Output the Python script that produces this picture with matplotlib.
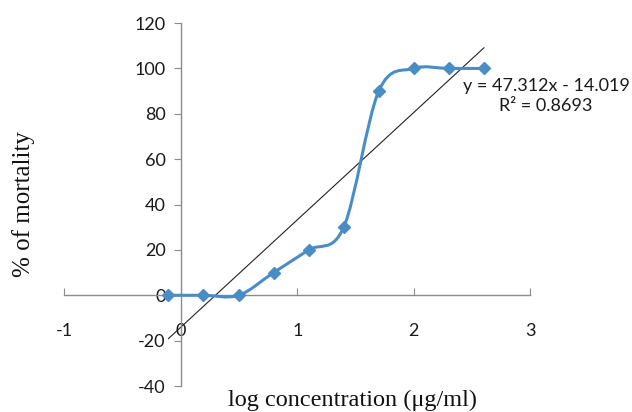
import numpy as np
import matplotlib.pyplot as plt
from matplotlib.path import Path
from matplotlib.patches import PathPatch

plt.rcParams['axes.unicode_minus'] = False

# log concentration and % mortality
log_conc = [-0.107, 0.193, 0.495, 0.796, 1.097, 1.398, 1.699, 2.0, 2.301, 2.602]
mortality = [0, 0, 0, 10, 20, 30, 90, 100, 100, 100]
slope = 47.312
intercept = -14.019
r2 = 0.8693

blue = '#4a8cc6'

fig = plt.figure(figsize=(6.32, 4.12), dpi=100)
ax = fig.add_axes([0.102, 0.063, 0.737, 0.881])

# smoothed line (excel style bezier through the points)
pts = np.column_stack([log_conc, mortality])
verts = [pts[0]]
codes = [Path.MOVETO]
n = len(pts)
for i in range(n - 1):
    p0 = pts[max(i - 1, 0)]
    p1 = pts[i]
    p2 = pts[i + 1]
    p3 = pts[min(i + 2, n - 1)]
    verts += [p1 + (p2 - p0) / 6, p2 - (p3 - p1) / 6, p2]
    codes += [Path.CURVE4] * 3
ax.add_patch(PathPatch(Path(verts, codes), fill=False, edgecolor=blue, lw=2.2, zorder=3))
ax.plot(log_conc, mortality, linestyle='none', marker='D', ms=6, color=blue, zorder=4)

# linear trendline over the data range
xt = np.array([log_conc[0], log_conc[-1]])
ax.plot(xt, slope * xt + intercept, color='#222222', lw=0.8, zorder=2)

ax.set_xlim(-1, 3)
ax.set_ylim(-40, 120)
ax.set_xticks([-1, 0, 1, 2, 3])
ax.set_yticks(range(-40, 121, 20))

ax.spines['left'].set_position(('data', 0))
ax.spines['bottom'].set_position(('data', 0))
ax.spines['top'].set_visible(False)
ax.spines['right'].set_visible(False)
for s in ['left', 'bottom']:
    ax.spines[s].set_color('#8c8c8c')
    ax.spines[s].set_linewidth(1.0)

ax.tick_params(axis='x', direction='in', length=5, color='#8c8c8c', pad=20,
               labelsize=13, labelcolor='#1a1a1a')
ax.tick_params(axis='y', direction='out', length=5, color='#8c8c8c', pad=6,
               labelsize=13, labelcolor='#1a1a1a')
for lab in ax.get_xticklabels() + ax.get_yticklabels():
    lab.set_family('Lato')

fig.text(0.864, 0.767, f'y = {slope}x - {abs(intercept)}\nR\u00b2 = {r2}',
         ha='center', va='center', fontsize=13, family='Lato',
         color='#1a1a1a', linespacing=1.25)

fig.text(0.037, 0.505, '% of mortality', rotation=90, ha='center', va='center',
         fontsize=18, family='Liberation Serif', color='#111111')
fig.text(0.558, 0.027, 'log concentration (\u03bcg/ml)', ha='center', va='center',
         fontsize=17.5, family='Liberation Serif', color='#111111')

fig.savefig('out.png', dpi=100)
